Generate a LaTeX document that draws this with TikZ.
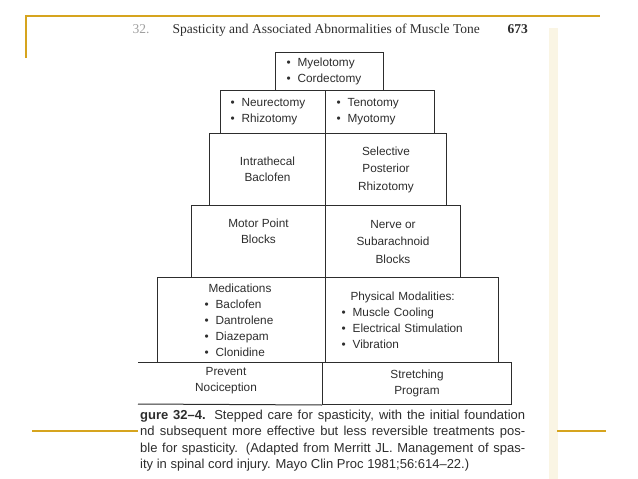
\documentclass[tikz,border=0pt]{standalone}
\usepackage{fontspec}
\setmainfont{Liberation Serif}
\setsansfont{Liberation Sans}
\usetikzlibrary{positioning}
\definecolor{slideline}{RGB}{214,164,30}
\definecolor{ink}{RGB}{45,45,45}
\definecolor{scanedge}{RGB}{250,245,228}
\newcommand{\bul}{\textbullet\hspace{7pt}}

\begin{document}
\begin{tikzpicture}[x=1pt, y=-1pt]
    \tikzstyle{cell} = [rectangle, draw=ink, line width=1pt, anchor=north west, inner sep=0pt, text=ink, align=center, font=\sffamily\fontsize{11.8}{16}\selectfont]
    \tikzstyle{tall} = [font=\sffamily\fontsize{11.8}{17.5}\selectfont]
    \tikzstyle{rule} = [draw=ink, line width=1pt]
    \tikzstyle{slide} = [draw=slideline, line width=1.3pt]

    \useasboundingbox (0,0) rectangle (638,479);

    % slide frame and scan edge
    \fill[scanedge] (549,28) rectangle (558,479);
    \draw[slide] (26,58) -- (26,16) -- (600,16);
    \draw[slide] (32,431) -- (138,431);
    \draw[slide] (557,431) -- (606,431);

    % running head
    \node[anchor=base east, text=ink!45, font=\fontsize{13.5}{16}\selectfont] (chap) at (153,34) {32.};
    \node[anchor=base west, text=ink, font=\fontsize{13.5}{16}\selectfont] (head) at (169,34) {Spasticity and Associated Abnormalities of Muscle Tone};
    \node[anchor=base west, text=ink, font=\fontsize{13.5}{16}\selectfont\bfseries] (page) at (504,34) {673};

    % stepped pyramid
    \node[cell, minimum width=108pt, minimum height=38pt, align=left, text width=86pt] (top) at (275,52) {\bul Myelotomy\\\bul Cordectomy};

    \node[cell, minimum width=105pt, minimum height=43pt, align=left, text width=85pt] (neur) at (220,90) {\bul Neurectomy\\\bul Rhizotomy};
    \node[cell, minimum width=109pt, minimum height=43pt, align=left, text width=87pt] (teno) at (325,90) {\bul Tenotomy\\\bul Myotomy};

    \node[cell, minimum width=116pt, minimum height=72pt] (itb) at (209,133) {Intrathecal\\Baclofen};
    \node[cell, tall, minimum width=121pt, minimum height=72pt] (spr) at (325,133) {Selective\\Posterior\\Rhizotomy};

    \node[cell, minimum width=134pt, minimum height=72pt] (mpb) at (191,205) {Motor Point\\Blocks\\[4pt]};
    \node[cell, tall, minimum width=135pt, minimum height=72pt] (nsb) at (325,205) {Nerve or\\Subarachnoid\\Blocks};

    \node[cell, minimum width=168pt, minimum height=85pt, align=left, text width=74pt] (meds) at (157,277) {\hspace*{4pt}Medications\\\bul Baclofen\\\bul Dantrolene\\\bul Diazepam\\\bul Clonidine};
    \node[cell, minimum width=173pt, minimum height=85pt, align=left, text width=141pt] (phys) at (325,277) {\hspace*{9pt}Physical Modalities:\\\bul Muscle Cooling\\\bul Electrical Stimulation\\\bul Vibration};

    \node[cell, minimum width=189pt, minimum height=42pt] (stretch) at (322,362) {Stretching\\Program};
    \node[text=ink, align=center, inner sep=0pt, font=\sffamily\fontsize{11.8}{16}\selectfont] (noci) at (226,381) {Prevent\\Nociception};
    \draw[rule] (138,362) -- (stretch.north west);
    \draw[rule] (138,404) -- (stretch.south west);

    % caption
    \node[anchor=north west, inner sep=0pt, text=ink, align=left, font=\sffamily\fontsize{13}{16.3}\selectfont] (cap) at (140,410) {\makebox[385pt][s]{\textbf{gure 32–4.} Stepped care for spasticity, with the initial foundation}\\
    \makebox[385pt][s]{nd subsequent more effective but less reversible treatments pos-}\\
    \makebox[385pt][s]{ble for spasticity. (Adapted from Merritt JL. Management of spas-}\\
    ity in spinal cord injury. Mayo Clin Proc 1981;56:614–22.)};
\end{tikzpicture}
\end{document}
